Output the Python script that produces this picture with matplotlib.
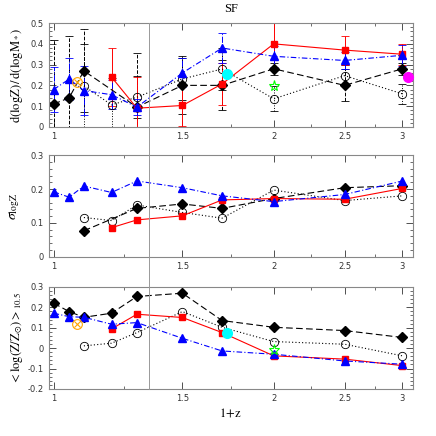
import matplotlib
matplotlib.use('Agg')
import matplotlib.pyplot as plt
from matplotlib.lines import Line2D
from matplotlib.ticker import FixedLocator, NullFormatter, MultipleLocator
from matplotlib.transforms import blended_transform_factory

plt.rcParams['mathtext.fontset'] = 'stix'

# ---- data: slope d(logZ)/d(logM*) ----
x_blk_top = [1.0, 1.05, 1.1, 1.3, 1.5, 1.7, 2.0, 2.5, 3.0]
y_blk_top = [0.11, 0.14, 0.27, 0.095, 0.20, 0.20, 0.28, 0.20, 0.28]
e_blk_top = [0.31, 0.30, 0.20, 0.26, 0.14, 0.12, 0.03, 0.077, 0.03]

x_blu_top = [1.0, 1.05, 1.1, 1.2, 1.3, 1.5, 1.7, 2.0, 2.5, 3.0]
y_blu_top = [0.18, 0.23, 0.175, 0.155, 0.095, 0.26, 0.38, 0.34, 0.32, 0.345]
e_blu_top = [0.11, 0.10, 0.12, 0.07, 0.04, 0.07, 0.07, 0.05, 0.04, 0.05]

x_red_top = [1.2, 1.3, 1.5, 1.7, 2.0, 2.5, 3.0]
y_red_top = [0.24, 0.09, 0.103, 0.207, 0.40, 0.37, 0.35]
e_red_top = [0.14, 0.15, 0.10, 0.10, 0.12, 0.07, 0.05]

x_cir_top = [1.1, 1.2, 1.3, 1.5, 1.7, 2.0, 2.5, 3.0]
y_cir_top = [0.197, 0.106, 0.143, 0.231, 0.279, 0.135, 0.247, 0.159]
e_cir_top = [0.20, 0.13, 0.10, 0.10, 0.10, 0.06, 0.05, 0.05]

# ---- data: scatter sigma_logZ ----
x_blu_mid = [1.0, 1.05, 1.1, 1.2, 1.3, 1.5, 1.7, 2.0, 2.5, 3.0]
y_blu_mid = [0.192, 0.176, 0.209, 0.190, 0.224, 0.204, 0.180, 0.163, 0.184, 0.224]
x_blk_mid = [1.1, 1.3, 1.5, 1.7, 2.0, 2.5, 3.0]
y_blk_mid = [0.077, 0.143, 0.156, 0.143, 0.172, 0.204, 0.21]
x_red_mid = [1.2, 1.3, 1.5, 1.7, 2.0, 2.5, 3.0]
y_red_mid = [0.086, 0.109, 0.121, 0.168, 0.172, 0.170, 0.202]
x_cir_mid = [1.1, 1.2, 1.3, 1.5, 1.7, 2.0, 2.5, 3.0]
y_cir_mid = [0.116, 0.107, 0.153, 0.131, 0.114, 0.197, 0.166, 0.180]

# ---- data: <log(Z/Zsun)> at 10.5 ----
x_blk_bot = [1.0, 1.05, 1.1, 1.2, 1.3, 1.5, 1.7, 2.0, 2.5, 3.0]
y_blk_bot = [0.22, 0.179, 0.151, 0.171, 0.253, 0.269, 0.135, 0.102, 0.086, 0.052]
x_blu_bot = [1.0, 1.05, 1.1, 1.2, 1.3, 1.5, 1.7, 2.0, 2.5, 3.0]
y_blu_bot = [0.171, 0.154, 0.151, 0.117, 0.125, 0.048, -0.014, -0.030, -0.063, -0.079]
x_red_bot = [1.2, 1.3, 1.5, 1.7, 2.0, 2.5, 3.0]
y_red_bot = [0.094, 0.166, 0.150, 0.076, -0.038, -0.054, -0.086]
x_cir_bot = [1.1, 1.2, 1.3, 1.5, 1.7, 2.0, 2.5, 3.0]
y_cir_bot = [0.011, 0.024, 0.076, 0.179, 0.102, 0.032, 0.019, -0.038]

# single comparison points (x, top value, bottom value)
x_orange, y_orange_top, y_orange_bot = 1.075, 0.218, 0.117
x_cyan, y_cyan_top, y_cyan_bot = 1.725, 0.255, 0.076
x_green, y_green_top, y_green_bot = 2.0, 0.197, -0.009
x_magenta, y_magenta_top = 3.05, 0.239

x_vline = 1.35

fig = plt.figure(figsize=(4.36, 4.36), dpi=100)
left, width = 0.112, 0.835
ax1 = fig.add_axes([left, 0.709, width, 0.238])
ax2 = fig.add_axes([left, 0.411, width, 0.233])
ax3 = fig.add_axes([left, 0.108, width, 0.234])

blk = dict(color='black', ls=(0, (6, 3)), lw=0.8, marker='D', ms=5, mfc='black', mec='black')
blu = dict(color='blue', ls=(0, (5, 2, 1, 2)), lw=0.8, marker='^', ms=5.5, mfc='blue', mec='blue')
red = dict(color='red', ls='-', lw=0.8, marker='s', ms=4.5, mfc='red', mec='red')
cir = dict(color='black', ls=(0, (1, 2)), lw=0.8, marker='o', ms=6, mfc='none', mec='black', mew=0.6)


def errs(ax, x, y, e, style, bar_ls):
    eb = ax.errorbar(x, y, yerr=e, capsize=3, elinewidth=0.7, capthick=0.6,
                     ecolor=style['color'], **style)
    eb[2][0].set_linestyle(bar_ls)
    return eb


errs(ax1, x_cir_top, y_cir_top, e_cir_top, cir, ':')
errs(ax1, x_blk_top, y_blk_top, e_blk_top, blk, '--')
errs(ax1, x_red_top, y_red_top, e_red_top, red, '-')
errs(ax1, x_blu_top, y_blu_top, e_blu_top, blu, '-.')

ax2.plot(x_cir_mid, y_cir_mid, **cir)
ax2.plot(x_blk_mid, y_blk_mid, **blk)
ax2.plot(x_red_mid, y_red_mid, **red)
ax2.plot(x_blu_mid, y_blu_mid, **blu)

ax3.plot(x_cir_bot, y_cir_bot, **cir)
ax3.plot(x_blk_bot, y_blk_bot, **blk)
ax3.plot(x_red_bot, y_red_bot, **red)
ax3.plot(x_blu_bot, y_blu_bot, **blu)

for ax, yo, yc, yg in [(ax1, y_orange_top, y_cyan_top, y_green_top), (ax3, y_orange_bot, y_cyan_bot, y_green_bot)]:
    ax.plot([x_orange], [yo], marker='o', ms=7, mfc='none', mec='orange', mew=0.8, ls='none', zorder=5)
    ax.plot([x_orange], [yo], marker='x', ms=4.5, color='orange', mew=0.8, ls='none', zorder=5)
    ax.plot([x_cyan], [yc], marker='o', ms=7, color='cyan', ls='none', zorder=5)
    ax.plot([x_green], [yg], marker='*', ms=8, mfc='none', mec='lime', mew=0.8, ls='none', zorder=5)
ax1.plot([x_magenta], [y_magenta_top], marker='o', ms=7, color='magenta', ls='none', zorder=5, clip_on=False)

limits = [(ax1, 0, 0.5, 0.1, 0.02), (ax2, 0, 0.3, 0.1, 0.02), (ax3, -0.2, 0.3, 0.1, 0.02)]
for ax, lo, hi, maj, mnr in limits:
    ax.set_xscale('log')
    ax.set_xlim(0.985, 3.1)
    ax.set_ylim(lo, hi)
    ax.xaxis.set_major_locator(FixedLocator([1, 1.5, 2, 2.5, 3]))
    ax.xaxis.set_minor_locator(FixedLocator([1.25, 1.75, 2.25, 2.75]))
    ax.xaxis.set_minor_formatter(NullFormatter())
    ax.set_xticklabels(['1', '1.5', '2', '2.5', '3'])
    ax.yaxis.set_major_locator(MultipleLocator(maj))
    ax.yaxis.set_minor_locator(MultipleLocator(mnr))
    ax.yaxis.set_major_formatter(plt.FuncFormatter(lambda v, p: '0' if abs(v) < 1e-9 else ('%.1f' % v)))
    ax.tick_params(which='both', direction='in', top=True, right=True, labelsize=6, colors='#333333')
    ax.tick_params(which='major', length=5, width=0.6)
    ax.tick_params(which='minor', length=2.5, width=0.5)
    for sp in ax.spines.values():
        sp.set_color('#888888')
        sp.set_linewidth(0.8)

serif = 'Liberation Serif'
ax1.set_ylabel(r'$\mathrm{d(logZ)\,/\,d(logM_*)}$', fontsize=9, labelpad=4)
ax2.set_ylabel(r'$\sigma_{\mathrm{logZ}}$', fontsize=10, labelpad=6)
ax3.set_ylabel(r'$\mathrm{<log(Z/Z_{\odot})>_{10.5}}$', fontsize=9, labelpad=2)
ax3.set_xlabel(r'$\mathrm{1\!+\!z}$', fontsize=9, labelpad=3)
fig.text(0.53, 0.965, 'SF', ha='center', va='bottom', fontsize=9, family=serif)

trans = blended_transform_factory(ax1.transData, fig.transFigure)
fig.add_artist(Line2D([x_vline, x_vline], [0.108, 0.947], transform=trans, color='#999999', lw=0.7))

fig.savefig('out.png', dpi=100)
